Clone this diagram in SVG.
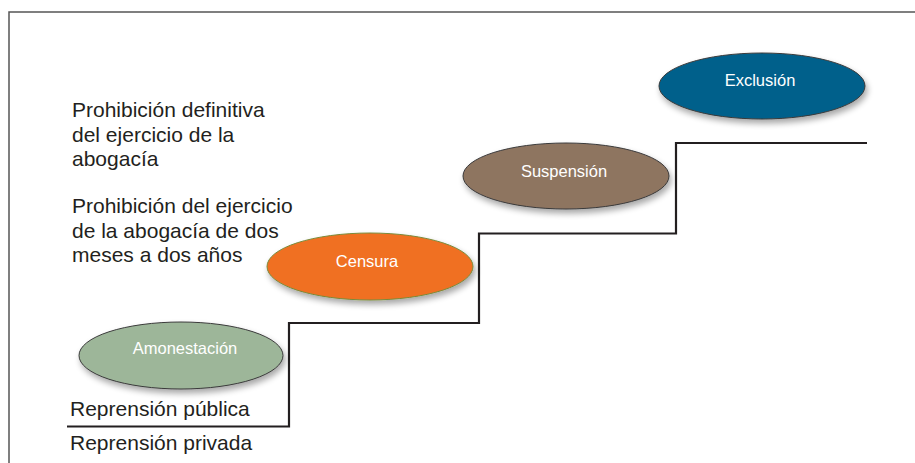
<svg xmlns="http://www.w3.org/2000/svg" width="915" height="463" viewBox="0 0 915 463">
<style>
.lbl{font-family:"Liberation Sans",Arial,sans-serif;font-size:21px;fill:#231f20}
.nl{font-family:"Liberation Sans",Arial,sans-serif;font-size:16.5px;fill:#ffffff;text-anchor:middle}
.el{stroke:#3a3a3a;stroke-width:1;filter:url(#sh)}
.step{fill:none;stroke:#231f20;stroke-width:2.2}
</style>
<defs>
<filter id="sh" x="-20%" y="-30%" width="140%" height="170%">
<feGaussianBlur in="SourceAlpha" stdDeviation="3"/>
<feOffset dx="2" dy="4" result="b"/>
<feComponentTransfer><feFuncA type="linear" slope="0.35"/></feComponentTransfer>
<feMerge><feMergeNode/><feMergeNode in="SourceGraphic"/></feMerge>
</filter>
</defs>
<rect width="915" height="463" fill="#ffffff"/>
<path d="M9,463 V12 H915" fill="none" stroke="#555" stroke-width="1.5"/>
<g id="connectors">
<path class="step" d="M67,426.5 H289 V323 H479 V233.5 H676 V143 H867"/>
</g>
<g id="exclusion">
<ellipse class="el" cx="762" cy="86" rx="103" ry="33" fill="#03608b"/>
<text class="nl" x="760" y="86">Exclusión</text>
</g>
<g id="suspension">
<ellipse class="el" cx="566" cy="176" rx="103" ry="33" fill="#8e7461"/>
<text class="nl" x="564" y="177">Suspensión</text>
</g>
<g id="censura">
<ellipse class="el" cx="370" cy="266.5" rx="103" ry="33.5" fill="#f07021" style="stroke:#7a8a3a"/>
<text class="nl" x="367" y="267">Censura</text>
</g>
<g id="amonestacion">
<ellipse class="el" cx="181" cy="355.5" rx="102" ry="33.5" fill="#9db699"/>
<text class="nl" x="185" y="354">Amonestación</text>
</g>
<g id="text-exclusion">
<text class="lbl" x="72" y="117">Prohibición definitiva</text>
<text class="lbl" x="72" y="142">del ejercicio de la</text>
<text class="lbl" x="72" y="166">abogacía</text>
</g>
<g id="text-suspension">
<text class="lbl" x="72" y="213">Prohibición del ejercicio</text>
<text class="lbl" x="72" y="238">de la abogacía de dos</text>
<text class="lbl" x="72" y="262">meses a dos años</text>
</g>
<g id="text-amonestacion">
<text class="lbl" x="70" y="416">Reprensión pública</text>
<text class="lbl" x="70" y="450">Reprensión privada</text>
</g>
</svg>
